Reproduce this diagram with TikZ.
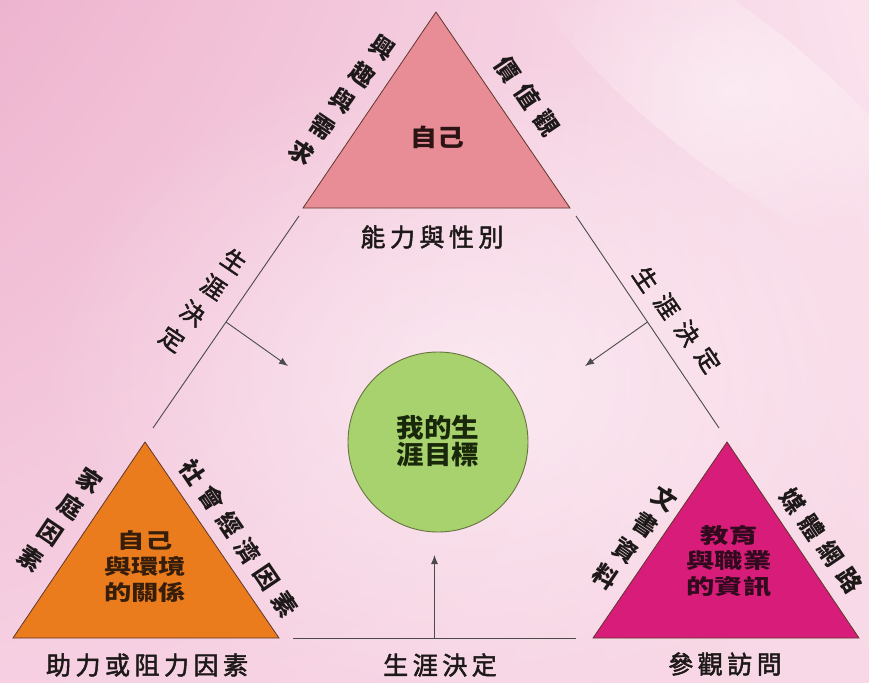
\documentclass[tikz,border=0pt]{standalone}
\usepackage{fontspec}
\newfontfamily\cjk{Noto Sans CJK TC}
\usetikzlibrary{calc,arrows.meta,fadings,shadings}
\tikzfading[name=glowfade, inner color=transparent!0, outer color=transparent!100]
\definecolor{bgA}{RGB}{238,180,207}
\definecolor{bgB}{RGB}{250,226,237}
\definecolor{bgC}{RGB}{246,208,226}
\definecolor{bgD}{RGB}{248,216,230}
\definecolor{tri1}{RGB}{232,140,150}
\definecolor{tri2}{RGB}{234,124,30}
\definecolor{tri3}{RGB}{216,28,122}
\definecolor{tridraw}{RGB}{95,55,45}
\definecolor{goalc}{RGB}{168,210,110}
\definecolor{goald}{RGB}{105,115,65}
\definecolor{linec}{RGB}{75,75,75}
\definecolor{txt}{RGB}{30,25,25}
\definecolor{txtA}{RGB}{45,20,20}
\definecolor{txtB}{RGB}{55,30,10}
\definecolor{txtC}{RGB}{50,10,30}
\definecolor{txtD}{RGB}{25,40,10}
\newcommand\charcol[6]{%
  \foreach \ch [count=\k] in {#6} {
    \node[edgelbl, rotate=#5] (#1\k) at ($(#2)!{(\k-1)/(#4-1)}!(#3)$) {\ch};
  }}
\newcommand\linecol[6]{%
  \foreach \ch [count=\k] in {#6} {
    \node[linelbl, rotate=#5] (#1\k) at ($(#2)!{(\k-1)/(#4-1)}!(#3)$) {\ch};
  }}
\begin{document}
\begin{tikzpicture}[x=1pt,y=-1pt,
  tri/.style={draw=tridraw, line width=0.8pt, line join=miter},
  conn/.style={draw=linec, line width=0.9pt},
  arr/.style={conn, -{Latex[length=9pt,width=7pt]}},
  edgelbl/.style={inner sep=0pt, text=txt, font=\cjk\bfseries\fontsize{24}{24}\selectfont},
  linelbl/.style={inner sep=0pt, text=txt, font=\cjk\fontsize{24}{24}\selectfont\addfontfeature{FakeBold=2}},
  baselbl/.style={inner sep=0pt, text=txt, font=\cjk\fontsize{25}{25}\selectfont\addfontfeature{LetterSpace=18,FakeBold=2}},
  intext/.style={inner sep=0pt, font=\cjk\bfseries\fontsize{21}{21}\selectfont},
]
\useasboundingbox (0,0) rectangle (869,682);
% background
\shade[upper left=bgA, upper right=bgB, lower left=bgC, lower right=bgD] (0,0) rectangle (869,682);
\fill[white, opacity=0.5, path fading=glowfade] (470,380) ellipse (430 and 330);
\fill[white, opacity=0.45, path fading=glowfade, rotate around={-38:(730,90)}] (730,90) ellipse (260 and 75);

% triangles
\coordinate (A1) at (436,12); \coordinate (B1) at (303,208); \coordinate (C1) at (570,208);
\coordinate (A2) at (145,442); \coordinate (B2) at (13,638); \coordinate (C2) at (279,638);
\coordinate (A3) at (727,442); \coordinate (B3) at (593,638); \coordinate (C3) at (859,638);
\filldraw[tri, fill=tri1] (A1) -- (B1) -- (C1) -- cycle;
\filldraw[tri, fill=tri2] (A2) -- (B2) -- (C2) -- cycle;
\filldraw[tri, fill=tri3] (A3) -- (B3) -- (C3) -- cycle;

% goal circle
\node[circle, draw=goald, line width=0.9pt, fill=goalc, minimum size=180pt, inner sep=0pt] (goal) at (438,442) {};
\node[intext, text=txtD, font=\cjk\bfseries\fontsize{26}{26}\selectfont] (g1) at (438,428) {\scalebox{1.06}[1]{我的生}};
\node[intext, text=txtD, font=\cjk\bfseries\fontsize{26}{26}\selectfont] (g2) at (438,455) {\scalebox{1.06}[1]{涯目標}};

% inner texts
\node[intext, text=txtA, font=\cjk\bfseries\fontsize{24}{24}\selectfont] (s1) at (437,137) {\scalebox{1.12}[1]{自己}};
\node[intext, text=txtB] (o1) at (145,540) {\scalebox{1.3}[1]{自己}};
\node[intext, text=txtB] (o2) at (145,566) {\scalebox{1.3}[1]{與環境}};
\node[intext, text=txtB] (o3) at (145,592) {\scalebox{1.3}[1]{的關係}};
\node[intext, text=txtC] (m1) at (729,536) {\scalebox{1.35}[1]{教育}};
\node[intext, text=txtC] (m2) at (729,561) {\scalebox{1.35}[1]{與職業}};
\node[intext, text=txtC] (m3) at (729,587) {\scalebox{1.35}[1]{的資訊}};

% edge labels
\charcol{tl}{383,48}{302,153}{5}{-34}{興,趣,與,需,求}
\charcol{tr}{508,69}{547,123}{3}{-56}{價,值,觀}
\charcol{ol}{90,481}{31,559}{4}{-34}{家,庭,因,素}
\charcol{or}{193,472}{285,604}{6}{-56}{社,會,經,濟,因,素}
\charcol{ml}{665,499}{606,577}{4}{-34}{文,書,資,料}
\charcol{mr}{793,501}{850,580}{4}{-56}{媒,體,網,路}

% base labels
\node[baselbl] (b1) at (432,237) {能力與性別};
\node[baselbl] (b2) at (147,665) {助力或阻力因素};
\node[baselbl] (b3) at (440,665) {生涯決定};
\node[baselbl] (b4) at (725,664) {參觀訪問};

% connectors
\coordinate (LA) at (299,216); \coordinate (LB) at (153,428);
\coordinate (RA) at (576,216); \coordinate (RB) at (719,428);
\coordinate (BL) at (293,638); \coordinate (BR) at (576,638);
\draw[conn] (LA) -- (LB);
\draw[conn] (RA) -- (RB);
\draw[conn] (BL) -- (BR);
\coordinate (LM) at ($(LA)!0.5!(LB)$);
\coordinate (RM) at ($(RA)!0.5!(RB)$);
\coordinate (BM) at ($(BL)!0.5!(BR)$);
\coordinate (LT) at (288,366);
\coordinate (RT) at (585,366);
\coordinate (BT) at (434.5,555);
\draw[arr] (LM) -- (LT);
\draw[arr] (RM) -- (RT);
\draw[arr] (BM) -- (BT);

% line labels
\linecol{ll}{234,261}{172,339}{4}{-34}{生,涯,決,定}
\linecol{rl}{646,279}{708,360}{4}{-56}{生,涯,決,定}
\end{tikzpicture}
\end{document}
